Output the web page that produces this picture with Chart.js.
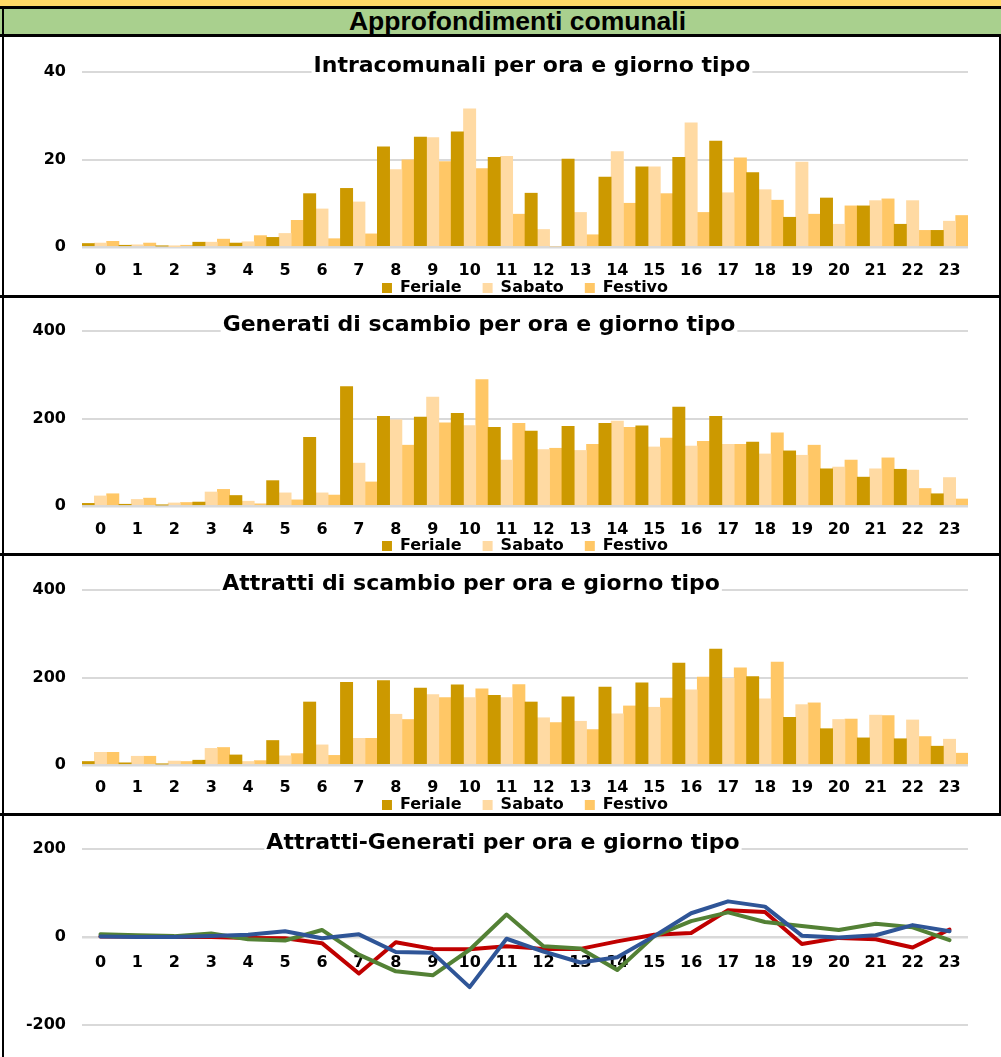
<!DOCTYPE html>
<html>
<head>
<meta charset="utf-8">
<script src="https://cdn.jsdelivr.net/npm/chart.js@4.4.1/dist/chart.umd.min.js"></script>
<style>
  html, body { margin:0; padding:0; background:#fff; }
  body { width:1001px; height:1057px; position:relative; overflow:hidden; }
  .abs { position:absolute; }
  .panel { position:absolute; left:0; width:1001px; overflow:hidden; }
  .panel canvas { position:absolute; left:0; top:0; }
  .blk { position:absolute; background:#000; z-index:5; }
  #header { position:absolute; left:0; top:9px; width:1001px; height:25px; background:#A9D08E;
            font-family:"Liberation Sans", Arial, sans-serif; font-weight:bold; font-size:26.5px;
            line-height:25px; text-align:center; color:#000; }
</style>
</head>
<body>
<div class="abs" style="left:0;top:0;width:1001px;height:6px;background:#FFD966;"></div>
<div class="blk" style="left:0;top:6px;width:1001px;height:3px;"></div>
<div id="header"><span style="position:relative;left:17px;top:0px;">Approfondimenti comunali</span></div>
<div class="blk" style="left:0;top:34px;width:1001px;height:3px;"></div>

<div class="panel" style="top:37px;height:258px;"><canvas id="c1" width="1001" height="269"></canvas></div>
<div class="blk" style="left:0;top:295px;width:1001px;height:3px;"></div>
<div class="panel" style="top:298px;height:255px;"><canvas id="c2" width="1001" height="266"></canvas></div>
<div class="blk" style="left:0;top:553px;width:1001px;height:3px;"></div>
<div class="panel" style="top:556px;height:257px;"><canvas id="c3" width="1001" height="267"></canvas></div>
<div class="blk" style="left:0;top:813px;width:1001px;height:3px;"></div>
<div class="panel" style="top:816px;height:241px;"><canvas id="c4" width="1001" height="241"></canvas></div>

<div class="blk" style="left:2px;top:6px;width:2px;height:1051px;"></div>
<div class="blk" style="left:999px;top:37px;width:2px;height:779px;"></div>

<script>
// ---------- data ----------
const hours = ['0','1','2','3','4','5','6','7','8','9','10','11','12','13','14','15','16','17','18','19','20','21','22','23'];
const seriesNames = ['Feriale','Sabato','Festivo'];

const intraFeriale = [0.8,0.4,0.2,1.1,0.9,2.2,12.2,13.4,22.9,25.1,26.3,20.5,12.3,20.1,16.0,18.3,20.5,24.2,17.0,6.8,11.2,9.4,5.2,3.8];
const intraSabato  = [0.9,0.5,0.05,1.1,1.2,3.1,8.7,10.3,17.7,25.0,31.6,20.7,4.0,7.9,21.8,18.3,28.4,12.4,13.1,19.4,5.2,10.6,10.6,5.9];
const intraFestivo = [1.3,0.9,0.4,1.8,2.6,6.1,1.9,3.0,19.9,19.5,17.9,7.5,0,2.8,10.0,12.2,7.9,20.4,10.7,7.5,9.4,11.0,3.8,7.2];

const genFeriale = [6,4,2,9,24,58,157,273,205,203,212,180,171,182,189,183,226,205,146,126,85,66,84,28];
const genSabato  = [23,15,7,32,11,30,30,98,197,249,184,105,129,127,194,135,137,141,119,116,89,85,82,65];
const genFestivo = [28,18,8,38,5,14,25,55,139,190,289,189,132,141,180,155,148,141,167,139,105,110,40,16];

const attFeriale = [8,5,2,11,23,56,144,189,193,176,183,159,144,156,178,188,233,265,202,109,83,62,60,43];
const attSabato  = [29,20,9,38,8,21,46,61,116,161,154,154,108,100,117,132,172,198,151,138,104,114,103,59];
const attFestivo = [29,20,8,40,10,26,22,61,104,154,174,184,97,81,135,153,201,222,235,142,105,113,65,27];

const diffFeriale = [1,1,0,0,-2,-3,-14,-83,-12,-27,-28,-21,-27,-27,-10,5,9,61,57,-16,-2,-5,-24,17];
const diffSabato  = [6,4,2,8,-5,-8,16,-40,-78,-87,-29,51,-21,-26,-75,2,36,56,34,25,16,30,22,-7];
const diffFestivo = [1,0,0,2,5,13,-3,6,-34,-36,-114,-4,-33,-58,-46,2,54,81,69,3,-1,4,27,13];

const titles = [
  'Intracomunali per ora e giorno tipo',
  'Generati di scambio per ora e giorno tipo',
  'Attratti di scambio per ora e giorno tipo',
  'Attratti-Generati per ora e giorno tipo'
];
const yTicks1 = [0, 20, 40];
const yTicks2 = [0, 200, 400];
const yTicks4 = [-200, 0, 200];

// ---------- styles ----------
const barColors = ['#CC9900', '#FFDAA3', '#FFC766'];
const lineColors = ['#C00000', '#538135', '#2F5597'];
const FONT = '"DejaVu Sans", sans-serif';
Chart.defaults.font.family = FONT;
Chart.defaults.color = '#000';
Chart.defaults.animation = false;

const panelTitle = {
  id: 'panelTitle',
  afterDraw(chart, args, opts) {
    const ctx = chart.ctx;
    ctx.save();
    ctx.font = 'bold 22px ' + FONT;
    const w = ctx.measureText(opts.text).width;
    const x = opts.cx - w / 2;
    const y = chart.chartArea.top + opts.dy;
    ctx.fillStyle = '#fff';
    ctx.fillRect(x - 2, y - 21, w + 4, 27);
    ctx.fillStyle = '#000';
    ctx.textBaseline = 'alphabetic';
    ctx.fillText(opts.text, x, y);
    ctx.restore();
  }
};

function gridOpts() {
  return {
    color: '#D9D9D9',
    lineWidth: (c) => (c.tick && c.tick.value === 0 ? 2.5 : 2),
    drawTicks: false
  };
}

function xOpts(pad) {
  return {
    position: { y: 0 },
    offset: true,
    grid: { display: false, drawTicks: false, offset: true }, border: { display: false },
    ticks: { padding: pad, font: { family: FONT, size: 16, weight: 'bold' }, color: '#000', maxRotation: 0, autoSkip: false }
  };
}

function yOpts(ticks) {
  return {
    min: ticks[0], max: ticks[ticks.length - 1],
    afterBuildTicks: (s) => { s.ticks = ticks.map(v => ({ value: v })); },
    grid: gridOpts(), border: { display: false },
    ticks: { padding: 16, font: { family: FONT, size: 16, weight: 'bold' }, color: '#000' },
    afterFit: (s) => { s.width = 82; }
  };
}

function barChart(id, series, ticks, title, cx, padTop, spacer, xPad) {
  return new Chart(document.getElementById(id), {
    type: 'bar',
    data: {
      labels: hours,
      datasets: series.map((d, i) => ({
        label: seriesNames[i], data: d, backgroundColor: barColors[i],
        borderWidth: 0, categoryPercentage: 1.0, barPercentage: 1.0
      }))
    },
    options: {
      responsive: false, devicePixelRatio: 1,
      layout: { padding: { top: padTop, right: 33, left: 0, bottom: 0 } },
      plugins: {
        title: { display: false },
        tooltip: { enabled: false },
        legend: {
          display: true, position: 'bottom', fullSize: false,
          title: { display: true, text: ' ', font: { size: 10, lineHeight: 1 }, padding: { top: spacer - 10, bottom: 0 } },
          labels: { boxWidth: 10, boxHeight: 10, padding: 21,
                    font: { family: FONT, size: 16, weight: 'bold' }, color: '#000' }
        },
        panelTitle: { text: title, cx: cx, dy: 0 }
      },
      scales: { x: xOpts(xPad), y: yOpts(ticks) }
    },
    plugins: [panelTitle]
  });
}

barChart('c1', [intraFeriale, intraSabato, intraFestivo], yTicks1, titles[0], 532, 35, 12, 14);
barChart('c2', [genFeriale, genSabato, genFestivo], yTicks2, titles[1], 479, 33, 11, 14);
barChart('c3', [attFeriale, attSabato, attFestivo], yTicks2, titles[2], 471, 34, 11, 13);

new Chart(document.getElementById('c4'), {
  type: 'line',
  data: {
    labels: hours,
    datasets: [diffFeriale, diffSabato, diffFestivo].map((d, i) => ({
      label: seriesNames[i], data: d, borderColor: lineColors[i], backgroundColor: lineColors[i],
      borderWidth: 4, pointRadius: 0, tension: 0, fill: false, order: 3 - i,
      borderJoinStyle: 'round', borderCapStyle: 'round'
    }))
  },
  options: {
    responsive: false, devicePixelRatio: 1,
    layout: { padding: { top: 33, right: 33, left: 0, bottom: 32 } },
    plugins: {
      legend: { display: false }, tooltip: { enabled: false },
      panelTitle: { text: titles[3], cx: 503, dy: 0 }
    },
    scales: { x: xOpts(16), y: yOpts(yTicks4) }
  },
  plugins: [panelTitle]
});
</script>
</body>
</html>
